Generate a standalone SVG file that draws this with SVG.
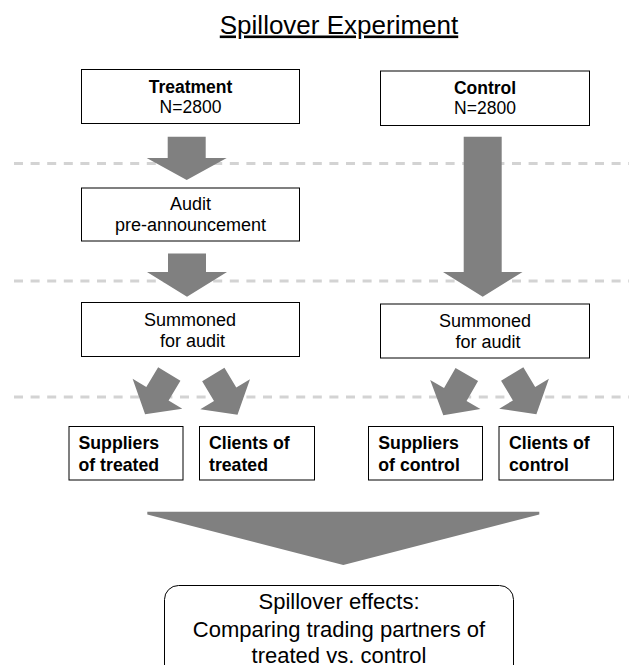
<svg xmlns="http://www.w3.org/2000/svg" width="629" height="665" viewBox="0 0 629 665">
  <style>
    text { font-family: "Liberation Sans", Arial, Helvetica, sans-serif; fill: #000; }
    .box { fill: #fff; stroke: #000; stroke-width: 1; }
    .c { text-anchor: middle; }
    .b { font-weight: bold; }
    .t17 { font-size: 17.5px; }
    .t18 { font-size: 18px; }
    .bt { font-size: 17.7px; font-weight: bold; }
    .sep { stroke: #d3d3d3; stroke-width: 3; stroke-dasharray: 9 7.6; fill: none; }
    .arr { fill: #808080; stroke: none; }
  </style>
  <defs>
    <polygon id="diag" points="-13,0 13,0 13,23 29,23 0,47 -29,23 -13,23"/>
  </defs>
  <rect width="629" height="665" fill="#fff"/>

  <text x="339" y="33.5" class="c" style="font-size:26px; text-decoration:underline">Spillover Experiment</text>

  <g id="separators">
    <line class="sep" x1="14" y1="163.5" x2="629" y2="163.5"/>
    <line class="sep" x1="14" y1="281" x2="629" y2="281"/>
    <line class="sep" x1="14" y1="397" x2="629" y2="397"/>
  </g>

  <g id="connectors">
    <polygon class="arr" points="167.7,136.7 205.7,136.7 205.7,158 226.7,158 186.7,180 146.7,158 167.7,158"/>
    <polygon class="arr" points="168,253.5 206,253.5 206,272 227,272 187,296.7 147,272 168,272"/>
    <polygon class="arr" points="463.7,136.7 501.7,136.7 501.7,272 522.5,272 482.7,296.7 443,272 463.7,272"/>
    <use href="#diag" class="arr" transform="translate(169.3,374) rotate(31)"/>
    <use href="#diag" class="arr" transform="translate(213.3,374.5) rotate(-31)"/>
    <use href="#diag" class="arr" transform="translate(466.8,374.5) rotate(30)"/>
    <use href="#diag" class="arr" transform="translate(512.2,374) rotate(-31)"/>
    <polygon class="arr" points="147.3,511.7 539.3,511.7 539.3,514.5 343.3,565 147.3,514.5"/>
  </g>

  <g id="treatment">
    <rect class="box" x="81.5" y="69.5" width="218" height="54"/>
    <text x="190.5" y="92.7" class="c b t17">Treatment</text>
    <text x="190.5" y="112.5" class="c t17">N=2800</text>
  </g>

  <g id="control">
    <rect class="box" x="380.5" y="71" width="209" height="54.5"/>
    <text x="485" y="93.5" class="c b t17">Control</text>
    <text x="485" y="113.5" class="c t17">N=2800</text>
  </g>

  <g id="audit">
    <rect class="box" x="81.5" y="188" width="218" height="53"/>
    <text x="190.5" y="210" class="c t18">Audit</text>
    <text x="190.5" y="230.5" class="c t18">pre-announcement</text>
  </g>

  <g id="summoned-treated">
    <rect class="box" x="81.5" y="302.5" width="218" height="54"/>
    <text x="190" y="325.7" class="c t18">Summoned</text>
    <text x="192.5" y="346.5" class="c t18">for audit</text>
  </g>

  <g id="summoned-control">
    <rect class="box" x="380.5" y="304" width="209" height="54"/>
    <text x="485" y="327" class="c t18">Summoned</text>
    <text x="488" y="347.5" class="c t18">for audit</text>
  </g>

  <g id="suppliers-treated">
    <rect class="box" x="69" y="426.5" width="114" height="53.5"/>
    <text x="78.5" y="449" class="bt">Suppliers</text>
    <text x="78.5" y="470.7" class="bt">of treated</text>
  </g>

  <g id="clients-treated">
    <rect class="box" x="199.5" y="426.5" width="115" height="53.5"/>
    <text x="209" y="449" class="bt">Clients of</text>
    <text x="209" y="470.7" class="bt">treated</text>
  </g>

  <g id="suppliers-control">
    <rect class="box" x="368.5" y="426.5" width="114" height="53.5"/>
    <text x="378.3" y="449" class="bt">Suppliers</text>
    <text x="378.3" y="470.7" class="bt">of control</text>
  </g>

  <g id="clients-control">
    <rect class="box" x="499" y="426.5" width="114.5" height="53.5"/>
    <text x="509" y="449" class="bt">Clients of</text>
    <text x="509" y="470.7" class="bt">control</text>
  </g>

  <g id="spillover-effects">
    <rect class="box" x="164.5" y="585.5" width="349" height="95" rx="14" ry="14"/>
    <text x="339" y="609.3" class="c" style="font-size:22px">Spillover effects:</text>
    <text x="339" y="636.7" class="c" style="font-size:22px">Comparing trading partners of</text>
    <text x="339" y="662.7" class="c" style="font-size:22px">treated vs. control</text>
  </g>
</svg>
